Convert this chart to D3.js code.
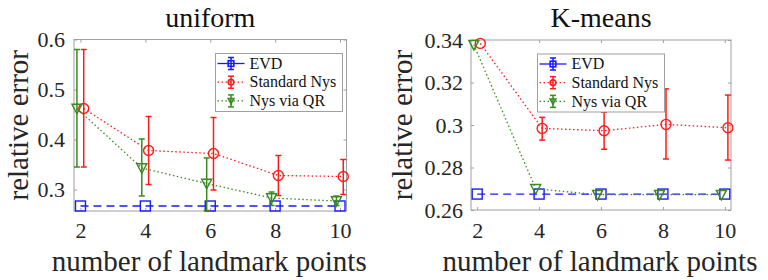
<!DOCTYPE html>
<html>
<head>
<meta charset="utf-8">
<script src="https://cdn.jsdelivr.net/npm/d3@7"></script>
<style>
body{margin:0;background:#fff;}
svg{display:block;font-family:"Liberation Serif",serif;}
</style>
</head>
<body>
<div id="chart"></div>
<script>
// landmark counts
const xs = [2,4,6,8,10];
const xTicks = [2,4,6,8,10];

// uniform sampling
const uniEVD   = [0.267,0.267,0.267,0.267,0.267];
const uniStd   = [0.462,0.378,0.372,0.328,0.326];
const uniStdLo = [0.345,0.310,0.299,0.288,0.290];
const uniStdHi = [0.580,0.446,0.444,0.368,0.360];
const uniQR    = [0.462,0.343,0.312,0.283,0.277];
const uniQRLo  = [0.345,0.287,0.258,0.268,0.268];
const uniQRHi  = [0.580,0.401,0.363,0.295,0.287];
const uniYTicks = [0.3,0.4,0.5,0.6];

// K-means sampling
const kmEVD   = [0.2675,0.2675,0.2675,0.2675,0.2675];
const kmStd   = [0.3384,0.2984,0.2973,0.3003,0.2987];
const kmStdLo = [0.3384,0.2929,0.2886,0.2840,0.2835];
const kmStdHi = [0.3384,0.3036,0.3060,0.3170,0.3141];
const kmQR    = [0.3378,0.2700,0.2672,0.2672,0.2672];
const kmQRLo  = [0.3378,0.2700,0.2672,0.2672,0.2672];
const kmQRHi  = [0.3378,0.2700,0.2672,0.2672,0.2672];
const kmYTicks = [0.26,0.28,0.30,0.32,0.34];

const legendNames = ["EVD","Standard Nys","Nys via QR"];

(function(){

const width = 768;
const height = 280;
const font = "Liberation Serif";

const blue = "#1a1aff";
const red = "#ff1a1a";
const green = "#3a8a1e";
const boxColor = "#a0a0a0";

const svg = d3.select("#chart")
.append("svg")
.attr("width",width)
.attr("height",height);

function drawPanel(p){
const g = svg.append("g");

const x = d3.scaleLinear()
.domain([1.8,10.2])
.range([p.left,p.right]);

const y = d3.scaleLinear()
.domain(p.yDomain)
.range([p.bottom,p.top]);

// box
g.append("rect")
.attr("x",p.left).attr("y",p.top)
.attr("width",p.right-p.left).attr("height",p.bottom-p.top)
.attr("fill","none").attr("stroke",boxColor).attr("stroke-width",1);

// ticks (inward, all four sides)
const tk = 3;
const bottomAx = g.append("g")
.attr("transform",`translate(0,${p.bottom})`)
.call(d3.axisBottom(x).tickValues(xTicks).tickSizeInner(-tk).tickSizeOuter(0).tickFormat(d3.format("d")));
const topAx = g.append("g")
.attr("transform",`translate(0,${p.top})`)
.call(d3.axisTop(x).tickValues(xTicks).tickSizeInner(-tk).tickSizeOuter(0).tickFormat(""));
const leftAx = g.append("g")
.attr("transform",`translate(${p.left},0)`)
.call(d3.axisLeft(y).tickValues(p.yTicks).tickSizeInner(-tk).tickSizeOuter(0).tickPadding(p.yPad).tickFormat(p.fmt));
const rightAx = g.append("g")
.attr("transform",`translate(${p.right},0)`)
.call(d3.axisRight(y).tickValues(p.yTicks).tickSizeInner(-tk).tickSizeOuter(0).tickFormat(""));

[bottomAx,topAx,leftAx,rightAx].forEach(a=>{
a.attr("font-family",font);
a.select(".domain").remove();
a.selectAll("line").attr("stroke",boxColor);
a.selectAll("text")
.attr("fill","#262626")
.attr("font-size","22px");
});
bottomAx.selectAll("text").attr("y",238-p.bottom).attr("dy",null);
leftAx.selectAll("text").attr("dy","0.33em");

// clip for lines
const clipId = "clip"+p.id;
svg.append("clipPath").attr("id",clipId)
.append("rect")
.attr("x",p.left).attr("y",p.top)
.attr("width",p.right-p.left).attr("height",p.bottom-p.top);

function series(vals,lo,hi,off,color,dash,marker){
const pts = xs.map((d,i)=>({x:d+off,v:vals[i],lo:lo?lo[i]:null,hi:hi?hi[i]:null}));

const line = d3.line()
.x(d=>x(d.x))
.y(d=>y(d.v));

g.append("path")
.datum(pts)
.attr("clip-path",`url(#${clipId})`)
.attr("fill","none")
.attr("stroke",color)
.attr("stroke-width",1.3)
.attr("stroke-dasharray",dash)
.attr("d",line);

// error bars
if(lo){
const eb = g.append("g").attr("stroke",color).attr("stroke-width",1.5);
pts.filter(d=>d.hi-d.lo>0.0005).forEach(d=>{
const cx = x(d.x);
eb.append("line").attr("x1",cx).attr("x2",cx).attr("y1",y(d.lo)).attr("y2",y(d.hi));
eb.append("line").attr("x1",cx-3).attr("x2",cx+3).attr("y1",y(d.lo)).attr("y2",y(d.lo));
eb.append("line").attr("x1",cx-3).attr("x2",cx+3).attr("y1",y(d.hi)).attr("y2",y(d.hi));
});
}

// markers
pts.forEach(d=>{
drawMarker(g,marker,x(d.x),y(d.v),5,color,1.4);
});
}

series(p.evd,null,null,0,blue,"8,5","square");
series(p.std,p.stdLo,p.stdHi,0.1,red,"1.5,2.5","circle");
series(p.qr,p.qrLo,p.qrHi,-0.11,green,"1.5,2.5","triangle");

// legend
const lg = g.append("g");
lg.append("rect")
.attr("x",p.legX).attr("y",p.legY)
.attr("width",127).attr("height",58)
.attr("fill","#fff")
.attr("stroke",boxColor)
.attr("stroke-width",1);

const styles = [
{c:blue,dash:null,m:"square"},
{c:red,dash:"1.5,2.5",m:"circle"},
{c:green,dash:"1.5,2.5",m:"triangle"}
];
legendNames.forEach((name,i)=>{
const yy = p.legY+10+i*18.7;
const x0 = p.legX+2, x1 = p.legX+29, xm = (x0+x1)/2;
lg.append("line")
.attr("x1",x0).attr("x2",x1).attr("y1",yy).attr("y2",yy)
.attr("stroke",styles[i].c).attr("stroke-width",1.3)
.attr("stroke-dasharray",styles[i].dash);
lg.append("line")
.attr("x1",xm).attr("x2",xm).attr("y1",yy-6).attr("y2",yy+6)
.attr("stroke",styles[i].c).attr("stroke-width",1.5);
[yy-6,yy+6].forEach(cy=>{
lg.append("line")
.attr("x1",xm-3).attr("x2",xm+3).attr("y1",cy).attr("y2",cy)
.attr("stroke",styles[i].c).attr("stroke-width",1.5);
});
drawMarker(lg,styles[i].m,xm,yy,2.8,styles[i].c,1.6);
lg.append("text")
.attr("x",p.legX+34)
.attr("y",yy)
.attr("dy","0.33em")
.attr("font-size","16px")
.attr("fill","#111")
.text(name);
});

// title
g.append("text")
.attr("x",(p.left+p.right)/2)
.attr("y",27)
.attr("text-anchor","middle")
.attr("font-size","28px")
.attr("fill","#111")
.text(p.title);

// labels
g.append("text")
.attr("x",(p.left+p.right)/2 - 1)
.attr("y",271)
.attr("text-anchor","middle")
.attr("font-size","29px")
.attr("fill","#262626")
.text("number of landmark points");

g.append("text")
.attr("transform","rotate(-90)")
.attr("x",-(p.top+p.bottom)/2)
.attr("y",p.yLabelX)
.attr("text-anchor","middle")
.attr("font-size","29px")
.attr("fill","#262626")
.text("relative error");
}

function drawMarker(sel,type,cx,cy,r,color,sw){
if(type==="square"){
sel.append("rect")
.attr("x",cx-r).attr("y",cy-r).attr("width",2*r).attr("height",2*r)
.attr("fill","none").attr("stroke",color).attr("stroke-width",sw);
}else if(type==="circle"){
sel.append("circle")
.attr("cx",cx).attr("cy",cy).attr("r",r)
.attr("fill","none").attr("stroke",color).attr("stroke-width",sw);
}else{
sel.append("path")
.attr("d",`M${cx-r},${cy-r*0.85}L${cx+r},${cy-r*0.85}L${cx},${cy+r*1.05}Z`)
.attr("fill","none").attr("stroke",color).attr("stroke-width",sw);
}
}

drawPanel({
id:"a",title:"uniform",
left:74,right:346.5,top:39.5,bottom:211,
yDomain:[0.257,0.6],yTicks:uniYTicks,fmt:d3.format(".1f"),yPad:9,
evd:uniEVD,std:uniStd,stdLo:uniStdLo,stdHi:uniStdHi,
qr:uniQR,qrLo:uniQRLo,qrHi:uniQRHi,
legX:215.5,legY:53.5,yLabelX:28
});

drawPanel({
id:"b",title:"K-means",
left:471,right:731,top:40,bottom:210,
yDomain:[0.26,0.34],yTicks:kmYTicks,fmt:d=>d===0.3?"0.3":d3.format(".2f")(d),yPad:8,
evd:kmEVD,std:kmStd,stdLo:kmStdLo,stdHi:kmStdHi,
qr:kmQR,qrLo:kmQRLo,qrHi:kmQRHi,
legX:537.5,legY:54,yLabelX:412
});

})();
</script>
</body>
</html>
